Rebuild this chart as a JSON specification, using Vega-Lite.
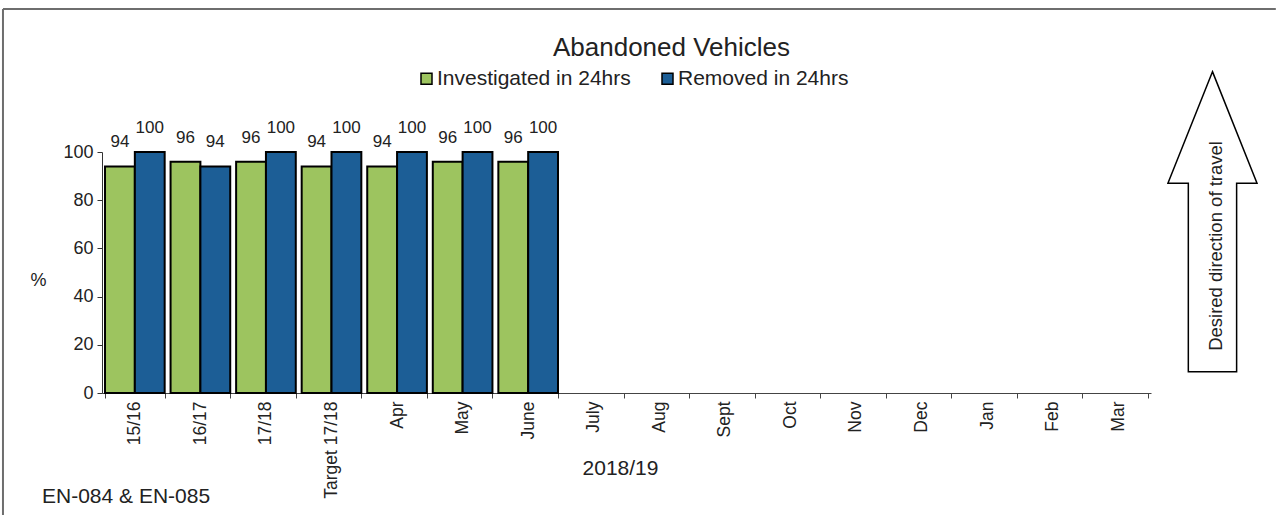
{
  "$schema": "https://vega.github.io/schema/vega-lite/v6.json",
  "width": 1049,
  "height": 241,
  "autosize": {"type": "none"},
  "padding": {"left": 102, "top": 152, "right": 125, "bottom": 122},
  "background": "white",
  "config": {"font": "Liberation Sans", "view": {"stroke": null}},
  "title": {"text": "Abandoned Vehicles", "fontSize": 26, "fontWeight": "normal", "color": "#222222", "anchor": "middle", "frame": "group", "dx": 45, "dy": 57},
  "datasets": {
    "bars": [
      {"period": "15/16", "series": "Investigated in 24hrs", "value": 94},
      {"period": "15/16", "series": "Removed in 24hrs", "value": 100},
      {"period": "16/17", "series": "Investigated in 24hrs", "value": 96},
      {"period": "16/17", "series": "Removed in 24hrs", "value": 94},
      {"period": "17/18", "series": "Investigated in 24hrs", "value": 96},
      {"period": "17/18", "series": "Removed in 24hrs", "value": 100},
      {"period": "Target 17/18", "series": "Investigated in 24hrs", "value": 94},
      {"period": "Target 17/18", "series": "Removed in 24hrs", "value": 100},
      {"period": "Apr", "series": "Investigated in 24hrs", "value": 94},
      {"period": "Apr", "series": "Removed in 24hrs", "value": 100},
      {"period": "May", "series": "Investigated in 24hrs", "value": 96},
      {"period": "May", "series": "Removed in 24hrs", "value": 100},
      {"period": "June", "series": "Investigated in 24hrs", "value": 96},
      {"period": "June", "series": "Removed in 24hrs", "value": 100}
    ]
  },
  "layer": [
    {
      "data": {"values": [{"edge": "top"}]},
      "mark": {"type": "rule", "color": "#6E6E6E", "strokeWidth": 2},
      "encoding": {
        "x": {"datum": -0.0944, "type": "quantitative", "scale": {"domain": [0, 1]}, "axis": null},
        "x2": {"datum": 1.119},
        "y": {"datum": 159.3, "type": "quantitative", "scale": {"domain": [0, 100], "nice": false}}
      }
    },
    {
      "data": {"values": [{"edge": "left"}]},
      "mark": {"type": "rule", "color": "#6E6E6E", "strokeWidth": 2},
      "encoding": {
        "x": {"datum": -0.0944, "type": "quantitative", "scale": {"domain": [0, 1]}, "axis": null},
        "y": {"datum": 159.3, "type": "quantitative", "scale": {"domain": [0, 100], "nice": false}},
        "y2": {"datum": -50.6}
      }
    },
    {
      "data": {"name": "bars"},
      "mark": {"type": "bar", "stroke": "black", "strokeWidth": 2},
      "encoding": {
        "x": {
          "field": "period", "type": "nominal", "sort": null,
          "scale": {"domain": ["15/16", "16/17", "17/18", "Target 17/18", "Apr", "May", "June", "July", "Aug", "Sept", "Oct", "Nov", "Dec", "Jan", "Feb", "Mar"], "paddingInner": 0.09, "paddingOuter": 0.046},
          "axis": {
            "title": "2018/19", "titleFontSize": 21, "titleFontWeight": "normal", "titleColor": "#222222", "titleBaseline": "middle", "titleY": 75, "titleX": 518,
            "labelAngle": 270, "labelAlign": "right", "labelBaseline": "middle", "labelFontSize": 17.5, "labelColor": "#222222", "labelPadding": 3,
            "tickBand": "extent", "tickSize": 5, "tickColor": "#444444", "domainColor": "#444444", "labelOverlap": false
          }
        },
        "xOffset": {"field": "series", "type": "nominal", "sort": ["Investigated in 24hrs", "Removed in 24hrs"]},
        "y": {
          "field": "value", "type": "quantitative",
          "scale": {"domain": [0, 100], "nice": false},
          "axis": {
            "title": "%", "titleAngle": 0, "titleFontSize": 18, "titleFontWeight": "normal", "titleColor": "#222222", "titleX": -64, "titleY": 128, "titleAlign": "center", "titleBaseline": "middle",
            "values": [0, 20, 40, 60, 80, 100], "grid": false, "labelFontSize": 18, "labelColor": "#222222", "labelPadding": 4,
            "tickSize": 5, "tickColor": "#333333", "domainColor": "#333333"
          }
        },
        "color": {
          "field": "series", "type": "nominal",
          "scale": {"domain": ["Investigated in 24hrs", "Removed in 24hrs"], "range": ["#9DC45F", "#1C5E96"]},
          "legend": {
            "title": null, "orient": "none", "legendX": 314, "legendY": -84, "direction": "horizontal",
            "symbolType": "square", "symbolSize": 121, "symbolStrokeColor": "black", "symbolStrokeWidth": 1.5,
            "labelFontSize": 21, "labelColor": "#222222", "labelOffset": 0, "labelLimit": 0, "columnPadding": 26, "padding": 0
          }
        }
      }
    },
    {
      "data": {"name": "bars"},
      "mark": {"type": "text", "fontSize": 17, "color": "#222222", "baseline": "middle", "dy": -24},
      "encoding": {
        "x": {"field": "period", "type": "nominal", "sort": null,
          "scale": {"domain": ["15/16", "16/17", "17/18", "Target 17/18", "Apr", "May", "June", "July", "Aug", "Sept", "Oct", "Nov", "Dec", "Jan", "Feb", "Mar"], "paddingInner": 0.09, "paddingOuter": 0.046}, "axis": null},
        "xOffset": {"field": "series", "type": "nominal", "sort": ["Investigated in 24hrs", "Removed in 24hrs"]},
        "y": {"field": "value", "type": "quantitative", "scale": {"domain": [0, 100], "nice": false}},
        "text": {"field": "value", "type": "quantitative"}
      }
    },
    {
      "data": {"values": [{"label": "arrow"}]},
      "mark": {"type": "point", "shape": "M0,-1L0.297,-0.256L0.161,-0.256L0.161,1L-0.161,1L-0.161,-0.256L-0.297,-0.256Z", "size": 90000, "filled": true, "fill": "white", "stroke": "black", "strokeWidth": 1.5, "opacity": 1},
      "encoding": {
        "x": {"datum": 1.0586, "type": "quantitative", "scale": {"domain": [0, 1]}, "axis": null},
        "y": {"datum": 71.1, "type": "quantitative", "scale": {"domain": [0, 100], "nice": false}}
      }
    },
    {
      "data": {"values": [{"label": "Desired direction of travel"}]},
      "mark": {"type": "text", "angle": 270, "align": "center", "baseline": "middle", "fontSize": 18.5, "color": "#222222"},
      "encoding": {
        "x": {"datum": 1.062, "type": "quantitative", "scale": {"domain": [0, 1]}, "axis": null},
        "y": {"datum": 61, "type": "quantitative", "scale": {"domain": [0, 100], "nice": false}},
        "text": {"field": "label", "type": "nominal"}
      }
    },
    {
      "data": {"values": [{"label": "EN-084 & EN-085"}]},
      "mark": {"type": "text", "align": "left", "baseline": "middle", "fontSize": 21, "color": "#222222"},
      "encoding": {
        "x": {"datum": -0.0572, "type": "quantitative", "scale": {"domain": [0, 1]}, "axis": null},
        "y": {"datum": -43.15, "type": "quantitative", "scale": {"domain": [0, 100], "nice": false}},
        "text": {"field": "label", "type": "nominal"}
      }
    }
  ],
  "resolve": {"scale": {"x": "independent", "xOffset": "independent"}}
}
